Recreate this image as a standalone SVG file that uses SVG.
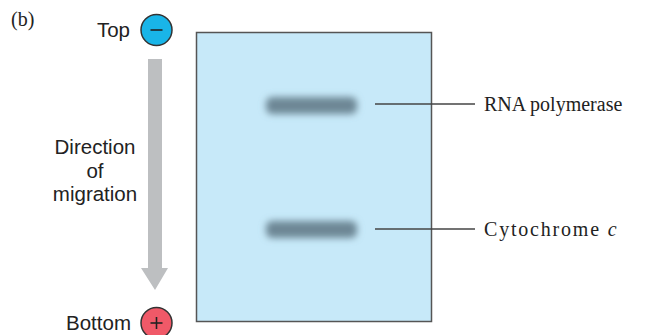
<svg xmlns="http://www.w3.org/2000/svg" width="652" height="335" viewBox="0 0 652 335">
<style>
.sans{font-family:"Liberation Sans",Arial,sans-serif;font-size:20.5px;fill:#222}
.serif{font-family:"Liberation Serif","Times New Roman",serif;font-size:20px;fill:#222}
.lead{stroke:#444;stroke-width:1.3;fill:none}
.band{fill:#6d8795;filter:url(#blur)}
</style>
<defs>
<filter id="blur" x="-20%" y="-60%" width="140%" height="220%"><feGaussianBlur stdDeviation="3.5"/></filter>
</defs>
<text x="11" y="26" class="serif">(b)</text>
<g id="top">
<text x="130" y="37" class="sans" text-anchor="end">Top</text>
<circle cx="156.5" cy="30" r="15.5" fill="#19b5e8" stroke="#333" stroke-width="1.5"/>
<line x1="150.5" y1="30" x2="162.5" y2="30" stroke="#222" stroke-width="1.6"/>
</g>
<g id="bottom">
<text x="131" y="330" class="sans" text-anchor="end">Bottom</text>
<circle cx="156.5" cy="323" r="15.5" fill="#f05968" stroke="#333" stroke-width="1.5"/>
<line x1="150.5" y1="323" x2="162.5" y2="323" stroke="#222" stroke-width="1.6"/>
<line x1="156.5" y1="317" x2="156.5" y2="329" stroke="#222" stroke-width="1.6"/>
</g>
<g id="direction">
<polygon points="148,59 162,59 162,268 168,268 155,290 141,268 148,268" fill="#bdbfc1"/>
<text class="sans" text-anchor="middle"><tspan x="95" y="154">Direction</tspan><tspan x="95" y="178">of</tspan><tspan x="95" y="201">migration</tspan></text>
</g>
<g id="gel">
<rect x="196.5" y="32.5" width="235" height="289" fill="#c7e9f9" stroke="#555" stroke-width="1.5"/>
<rect class="band" x="266" y="97" width="91" height="17" rx="6"/>
<rect class="band" x="266" y="221" width="91" height="17" rx="6"/>
</g>
<g id="connectors">
<line class="lead" x1="375" y1="104" x2="475" y2="104"/>
<line class="lead" x1="375" y1="229" x2="475" y2="229"/>
</g>
<g id="rna">
<text x="484" y="111" class="serif">RNA polymerase</text>
</g>
<g id="cyt">
<text x="484" y="236" class="serif" letter-spacing="1.8">Cytochrome <tspan font-style="italic">c</tspan></text>
</g>
</svg>
